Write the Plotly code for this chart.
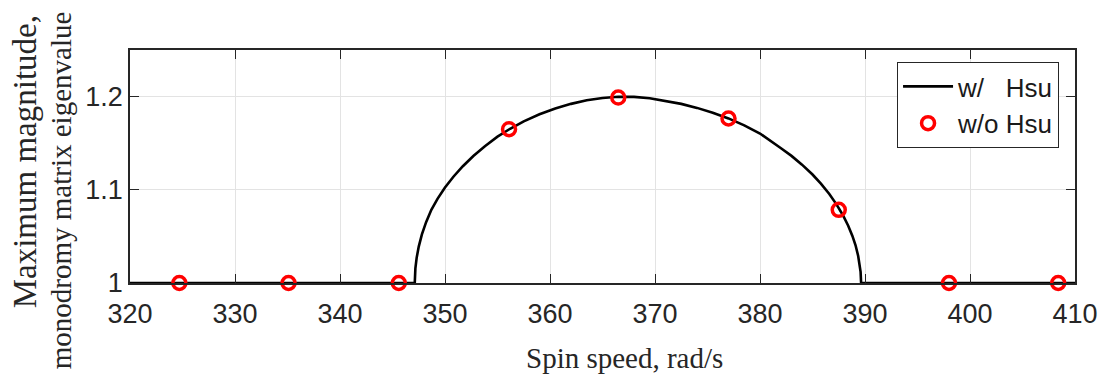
import plotly.graph_objects as go

# Curve "w/ Hsu"
curve_x = [320, 347.12, 347.18, 347.3, 347.5, 347.8, 348.2, 348.7, 349.3, 350.0, 350.8,
           351.7, 352.7, 353.8, 355.0, 356.2, 357.5, 359.0, 360.5, 362.0, 363.5, 365.0,
           366.5, 368.0, 369.5, 371.0, 372.5, 374.0, 375.5, 377.0, 378.5, 380.0, 381.0,
           382.0, 383.0, 384.0, 385.0, 385.8, 386.6, 387.3, 387.9, 388.4, 388.8, 389.1,
           389.35, 389.5, 389.58, 389.63, 410]
curve_y = [1.0, 1.0, 1.0156, 1.0270, 1.0391, 1.0521, 1.0653, 1.0785, 1.0905, 1.1025, 1.1140,
           1.1253, 1.1363, 1.1468, 1.1570, 1.1655, 1.1735, 1.1810, 1.1873, 1.1922, 1.1960,
           1.1985, 1.1998, 1.1997, 1.1982, 1.1956, 1.1922, 1.1879, 1.1827, 1.1766, 1.1692,
           1.1604, 1.1529, 1.1446, 1.1364, 1.1270, 1.1164, 1.1066, 1.0955, 1.0841, 1.0727,
           1.0614, 1.0505, 1.0405, 1.0290, 1.0200, 1.0120, 1.0, 1.0]

# Markers "w/o Hsu"
pts_x = [324.7, 335.1, 345.6, 356.1, 366.5, 377.0, 387.5, 398.0, 408.4]
pts_y = [1.0, 1.0, 1.0, 1.165, 1.199, 1.1765, 1.0785, 1.0, 1.0]

x_ticks = [320, 330, 340, 350, 360, 370, 380, 390, 400, 410]
y_ticks = [1, 1.1, 1.2]
y_tick_text = ["1", "1.1", "1.2"]

AX = "#262626"
SANS = "Liberation Sans, Arial, sans-serif"
SERIF = "Liberation Serif, Times New Roman, serif"

fig = go.Figure()
fig.add_trace(go.Scatter(x=curve_x, y=curve_y, mode="lines", name="w/\u00a0\u00a0\u00a0Hsu",
                         line=dict(color="black", width=2.6), cliponaxis=False))
fig.add_trace(go.Scatter(x=pts_x, y=pts_y, mode="markers", name="w/o Hsu",
                         marker=dict(symbol="circle-open", size=13, color="#ff0000",
                                     line=dict(width=3.5, color="#ff0000")),
                         cliponaxis=False))

L, R, T, B = 130, 32, 50, 96
W, H = 1110, 379
pw = W - L - R
ph = H - T - B

fig.update_layout(
    width=W, height=H,
    margin=dict(l=L, r=R, t=T, b=B),
    plot_bgcolor="white", paper_bgcolor="white",
    showlegend=True,
    legend=dict(x=(1062 - L) / pw, y=(283 - 62) / ph, xanchor="right", yanchor="top",
                bgcolor="white", bordercolor=AX, borderwidth=1,
                font=dict(family=SANS, size=26, color="#1a1a1a"),
                tracegroupgap=0, itemwidth=50),
    xaxis=dict(range=[320, 410], tickvals=x_ticks, ticks="inside", ticklen=9, tickwidth=1,
               tickcolor=AX, showline=True, linecolor=AX, linewidth=1.5, mirror="ticks",
               showgrid=True, gridcolor="#e3e3e3", gridwidth=1, zeroline=False,
               ticklabelstandoff=6,
               tickfont=dict(family=SANS, size=27, color=AX)),
    yaxis=dict(range=[1, 1.25], tickvals=y_ticks, ticktext=y_tick_text, ticks="inside",
               ticklen=9, tickwidth=1, tickcolor=AX, showline=True, linecolor=AX,
               linewidth=1.5, mirror="ticks", showgrid=True, gridcolor="#e3e3e3",
               gridwidth=1, zeroline=False,
               tickfont=dict(family=SANS, size=27, color=AX)),
)

# axis titles as annotations
fig.add_annotation(text="Spin speed, rad/s", xref="paper", yref="paper",
                   x=(626.5 - L) / pw, y=(283 - 358) / ph, xanchor="center", yanchor="middle",
                   showarrow=False, font=dict(family=SERIF, size=29, color=AX))
fig.add_annotation(text="Maximum magnitude,", xref="paper", yref="paper", textangle=-90,
                   x=(25 - L) / pw, y=(283 - 162) / ph, xanchor="center", yanchor="middle",
                   showarrow=False, font=dict(family=SERIF, size=33, color=AX))
fig.add_annotation(text="monodromy matrix eigenvalue", xref="paper", yref="paper", textangle=-90,
                   x=(61 - L) / pw, y=(283 - 190) / ph, xanchor="center", yanchor="middle",
                   showarrow=False, font=dict(family=SERIF, size=29, color=AX))

fig.write_html("out.html")
